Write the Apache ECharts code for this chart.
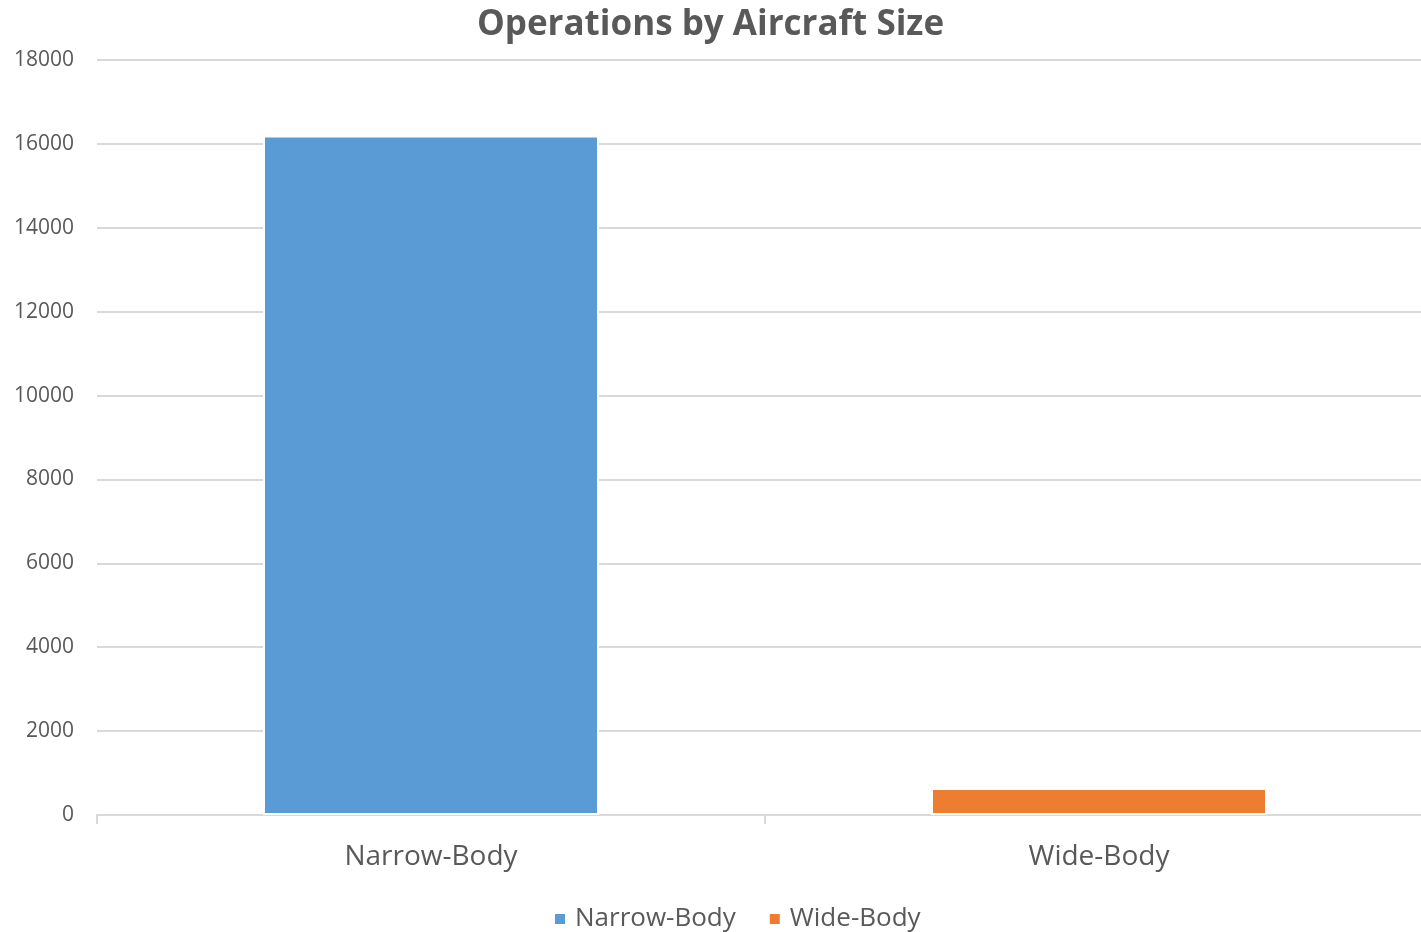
<!DOCTYPE html>
<html><head><meta charset="utf-8">
<script src="https://cdn.jsdelivr.net/npm/echarts@6/dist/echarts.min.js"></script>
<style>html,body{margin:0;padding:0;background:#fff}#c{width:1421px;height:932px}</style>
</head><body><div id="c"></div>
<script>
const categories = ['Narrow-Body', 'Wide-Body'];
const seriesNames = ['Narrow-Body', 'Wide-Body'];
const narrowBody = [16200, '-'];
const wideBody = ['-', 645];
const yTicks = {min: 0, max: 18000, interval: 2000};

const font = 'Open Sans, Noto Sans, sans-serif';
const chart = echarts.init(document.getElementById('c'), null, {renderer: 'canvas'});
chart.setOption({
  animation: false,
  title: {text: 'Operations by Aircraft Size', left: 'center', top: 3,
    textStyle: {fontFamily: font, fontSize: 35, fontWeight: 'bold', color: '#595959'}},
  grid: {left: 97, width: 1336, top: 60, height: 755, containLabel: false, outerBoundsMode: 'none'},
  legend: {bottom: -5, left: 548, itemWidth: 12, itemHeight: 12, itemGap: 32, icon: 'rect',
    textStyle: {fontFamily: font, fontSize: 26, color: '#595959', padding: [0, 0, 0, 4]},
    data: seriesNames},
  xAxis: {type: 'category', data: categories,
    axisLine: {lineStyle: {color: '#d9d9d9', width: 2}},
    axisTick: {show: true, length: 9, lineStyle: {color: '#d9d9d9', width: 2}},
    axisLabel: {fontFamily: font, fontSize: 28, color: '#595959', margin: 28}},
  yAxis: {type: 'value', min: yTicks.min, max: yTicks.max, interval: yTicks.interval,
    axisLine: {show: false}, axisTick: {show: false},
    splitLine: {lineStyle: {color: '#d9d9d9', width: 2}},
    axisLabel: {fontFamily: font, fontSize: 21, color: '#595959', margin: 23,
      formatter: v => String(v)}},
  series: [
    {name: seriesNames[0], type: 'bar', stack: 'a', data: narrowBody, barWidth: 336,
      itemStyle: {color: '#5b9bd5', borderColor: '#fff', borderWidth: 2}},
    {name: seriesNames[1], type: 'bar', stack: 'a', data: wideBody, barWidth: 336,
      itemStyle: {color: '#ed7d31', borderColor: '#fff', borderWidth: 2}}
  ]
});
</script></body></html>
